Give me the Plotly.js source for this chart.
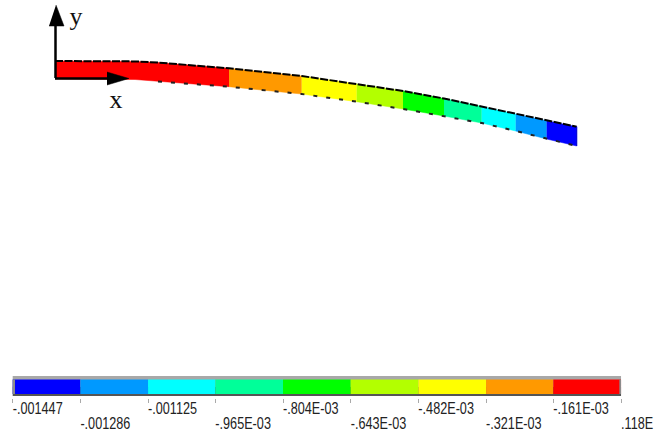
<!DOCTYPE html>
<html><head><meta charset="utf-8">
<script src="https://cdn.plot.ly/plotly-3.0.1.min.js"></script>
<style>html,body{margin:0;padding:0;background:#fff;overflow:hidden}#c{width:667px;height:435px}</style>
</head><body><div id="c"></div>
<script>
// Beam geometry in model units, origin at the x/y triad root
const stations = [0, 80, 103, 135, 174, 246.7, 301.7, 348, 389, 426.7, 460.7, 491.7, 521.7];
const topEdge  = [17, 16.6, 15.4, 12.6, 9.7, 2, -6, -13, -20.5, -28.5, -36, -42.7, -48.7];
const botEdge  = [-1, -1.5, -3.5, -5.8, -8.7, -16, -23.7, -31, -38, -45, -53, -61, -68];
const fringeFrom = [0, 174, 246.7, 301.7, 348, 389, 426.7, 460.7, 491.7];
const fringeTo   = [174, 246.7, 301.7, 348, 389, 426.7, 460.7, 491.7, 521.7];
const fringeColors = ['#ff0000','#ff9900','#ffff00','#b3ff00','#00ff00','#00ff99','#00ffff','#0099ff','#0000ff'];

// Contour legend
const levels = [-0.001447,-0.001286,-0.001125,-0.000965,-0.000804,-0.000643,-0.000482,-0.000321,-0.000161,0.000000118];
const levelLabels = ['-.001447','-.001286','-.001125','-.965E-03','-.804E-03','-.643E-03','-.482E-03','-.321E-03','-.161E-03','.118E'];
const legendColors = ['#0000ff','#0099ff','#00ffff','#00ff99','#00ff00','#b3ff00','#ffff00','#ff9900','#ff0000'];
const labelRows = [-1.6,-2.6,-1.6,-2.6,-1.6,-2.6,-1.6,-2.6,-1.6,-2.6];

// Triad
const yShaftX = [0.5, 0.5], yShaftY = [0, 55];
const yHeadX = [-6, 9, 1], yHeadY = [52, 52, 73];
const xShaftX = [0, 55], xShaftY = [-0.5, -0.5];
const xHeadX = [52, 74, 52], xHeadY = [6, -0.5, -7];

function interp(xs, ys, x){
  for(let i=0;i<xs.length-1;i++){ if(x>=xs[i]&&x<=xs[i+1]) return ys[i]+(ys[i+1]-ys[i])*(x-xs[i])/(xs[i+1]-xs[i]); }
  return ys[ys.length-1];
}
const traces = [];
fringeColors.forEach((col,i)=>{
  const a=fringeFrom[i], b=fringeTo[i];
  const inner=stations.filter(s=>s>=a&&s<=b);
  const xs=inner.concat(inner.slice().reverse());
  const ys=inner.map(s=>interp(stations,topEdge,s)).concat(inner.slice().reverse().map(s=>interp(stations,botEdge,s)));
  traces.push({type:'scatter',mode:'lines',x:xs,y:ys,fill:'toself',fillcolor:col,line:{width:0.5,color:col},hoverinfo:'skip',showlegend:false});
});
// deformed outline
traces.push({type:'scatter',mode:'lines',x:stations,y:topEdge,line:{color:'#000',width:2,dash:'8px,1.5px'},hoverinfo:'skip',showlegend:false});
const botX=stations.filter(s=>s>=100), botY=botX.map(s=>interp(stations,botEdge,s));
traces.push({type:'scatter',mode:'lines',x:botX,y:botY,line:{color:'#222',width:2,dash:'4px,9px'},hoverinfo:'skip',showlegend:false});
traces.push({type:'scatter',mode:'lines',x:[stations[12],stations[12]],y:[topEdge[12],botEdge[12]],line:{color:'#0000cc',width:1},hoverinfo:'skip',showlegend:false});
// triad
[[yShaftX,yShaftY],[xShaftX,xShaftY]].forEach(p=>traces.push({type:'scatter',mode:'lines',x:p[0],y:p[1],line:{color:'#000',width:2.5},hoverinfo:'skip',showlegend:false}));
[[yHeadX,yHeadY],[xHeadX,xHeadY]].forEach(p=>traces.push({type:'scatter',mode:'lines',x:p[0],y:p[1],fill:'toself',fillcolor:'#000',line:{color:'#000',width:0.5},hoverinfo:'skip',showlegend:false}));
traces.push({type:'scatter',mode:'text',x:[21,61],y:[60,-23],text:['y','x'],textposition:'middle center',textfont:{family:'Liberation Serif',size:26,color:'#111'},hoverinfo:'skip',showlegend:false});

// legend frame and bands
const span=levels[9]-levels[0];
const capL=0.0000055, capR=0.000004;
traces.push({type:'bar',orientation:'h',xaxis:'x2',yaxis:'y2',y:[0.37],x:[span],base:[levels[0]],width:[0.74],marker:{color:'#a8a8a8',line:{width:0}},hoverinfo:'skip',showlegend:false});
traces.push({type:'bar',orientation:'h',xaxis:'x2',yaxis:'y2',y:[-0.32],x:[span],base:[levels[0]],width:[0.64],marker:{color:'#555',line:{width:0}},hoverinfo:'skip',showlegend:false});
traces.push({type:'bar',orientation:'h',xaxis:'x2',yaxis:'y2',y:legendColors.map(()=>0),x:legendColors.map((c,i)=>levels[i+1]-levels[i]),base:levels.slice(0,9),width:legendColors.map(()=>1),marker:{color:legendColors,line:{width:0}},hoverinfo:'skip',showlegend:false});
traces.push({type:'bar',orientation:'h',xaxis:'x2',yaxis:'y2',y:[0,0],x:[capL,capR],base:[levels[0],levels[9]-capR],width:[1,1],marker:{color:'#8c8c8c',line:{width:0}},hoverinfo:'skip',showlegend:false});
traces.push({type:'scatter',mode:'text',xaxis:'x2',yaxis:'y2',x:levels,y:labelRows,text:levelLabels,textposition:'middle right',textfont:{family:'Liberation Sans',size:17,color:'#222'},cliponaxis:false,hoverinfo:'skip',showlegend:false});

const hidden={visible:false,fixedrange:true,showgrid:false,zeroline:false};
const layout={
  width:667,height:435,margin:{l:0,r:0,t:0,b:0},paper_bgcolor:'#fff',plot_bgcolor:'rgba(0,0,0,0)',
  showlegend:false,barmode:'overlay',
  xaxis:{...hidden,range:[-55,612],domain:[0,1]},
  yaxis:{...hidden,range:[-357,78],domain:[0,1]},
  xaxis2:{range:[-0.001447-12.7/420380,-0.001447+654.3/420380],domain:[0,1],overlaying:'x',anchor:'free',position:1-397.5/435,side:'bottom',
    tickmode:'array',tickvals:levels,ticks:'outside',ticklen:4,tickwidth:1,tickcolor:'#aaa',showticklabels:false,showgrid:false,zeroline:false,showline:false,fixedrange:true},
  yaxis2:{...hidden,range:[(386.75-435)/14.5,386.75/14.5],domain:[0,1],overlaying:'y'}
};
Plotly.newPlot('c',traces,layout,{displayModeBar:false,staticPlot:true}).then(()=>{
  // the legend labels use a narrow face: condense them horizontally, keeping real text
  document.querySelectorAll('#c .textpoint text').forEach(t=>{
    if(levelLabels.includes(t.textContent)){
      t.style.transformBox='fill-box';
      t.style.transformOrigin='left center';
      t.style.transform='scaleX(0.745)';
    }
  });
});
</script></body></html>
